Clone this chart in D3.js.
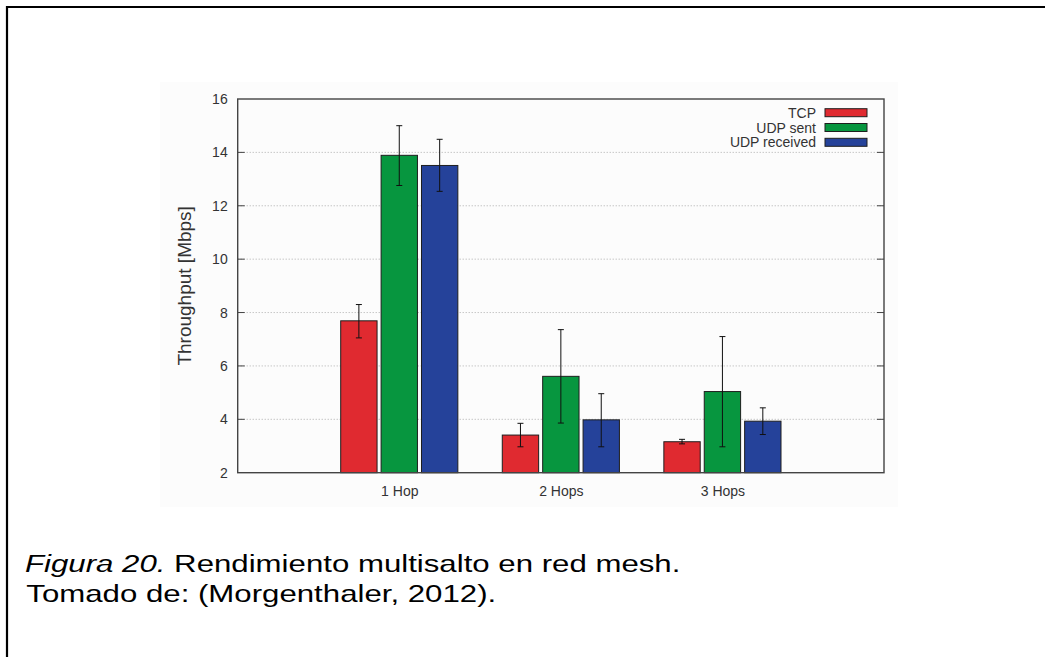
<!DOCTYPE html>
<html>
<head>
<meta charset="utf-8">
<script src="https://cdn.jsdelivr.net/npm/d3@7"></script>
<style>
  html, body { margin: 0; padding: 0; background: #fff; }
  svg { display: block; }
  text { font-family: "Liberation Sans", Arial, Helvetica, sans-serif; }
</style>
</head>
<body>
<svg id="chart" width="1045" height="657"></svg>
<script>
// Hop counts along the x axis
const categories = ["1 Hop", "2 Hops", "3 Hops"];
// Series shown in the legend
const seriesNames = ["TCP", "UDP sent", "UDP received"];
const seriesColors = ["#e02a30", "#07963f", "#25429a"];
// Mean throughput per hop count [Mbps]
const tcpValues = [7.69, 3.41, 3.16];
const udpSentValues = [13.89, 5.61, 5.04];
const udpReceivedValues = [13.51, 3.98, 3.93];
// Error bar bounds (low, high) [Mbps]
const tcpErrLow = [7.05, 2.97, 3.08];
const tcpErrHigh = [8.30, 3.85, 3.25];
const udpSentErrLow = [12.76, 3.86, 2.97];
const udpSentErrHigh = [15.00, 7.36, 7.10];
const udpReceivedErrLow = [12.54, 2.97, 3.43];
const udpReceivedErrHigh = [14.49, 4.96, 4.43];
// Y axis ticks
const yTicks = [2, 4, 6, 8, 10, 12, 14, 16];

const series = [
  { name: seriesNames[0], color: seriesColors[0], values: tcpValues, lo: tcpErrLow, hi: tcpErrHigh },
  { name: seriesNames[1], color: seriesColors[1], values: udpSentValues, lo: udpSentErrLow, hi: udpSentErrHigh },
  { name: seriesNames[2], color: seriesColors[2], values: udpReceivedValues, lo: udpReceivedErrLow, hi: udpReceivedErrHigh }
];

const svg = d3.select("#chart");

// Page frame
svg.append("path")
  .attr("d", "M7,700 L7,7 L1100,7")
  .attr("fill", "none")
  .attr("stroke", "#000")
  .attr("stroke-width", 2.2);

// Light backdrop of the plot figure
svg.append("rect")
  .attr("x", 160).attr("y", 82)
  .attr("width", 738).attr("height", 425)
  .attr("fill", "#fcfcfc");

const plot = { left: 237.7, right: 884, top: 99, bottom: 472.7 };

// x: group slots at 1, 2, 3 within [0, 4]
const x = d3.scaleLinear().domain([0, 4]).range([plot.left, plot.right]);
const y = d3.scaleLinear().domain([2, 16]).range([plot.bottom, plot.top]);

// Each group holds 3 bars plus a one-bar gap; boxes fill 90% of a slot
const slot = 1 / 4;
const boxFrac = 0.9;
const slotPx = x(slot) - x(0);
const barW = slotPx * boxFrac;

// Grid lines (dotted)
svg.append("g")
  .selectAll("line")
  .data(yTicks.filter(t => t > 2 && t < 16))
  .join("line")
  .attr("x1", plot.left).attr("x2", plot.right)
  .attr("y1", d => y(d)).attr("y2", d => y(d))
  .attr("stroke", "#9a9a9a")
  .attr("stroke-width", 0.8)
  .attr("stroke-dasharray", "1,2");

// Y axis with inward ticks on both sides
const yAxis = d3.axisLeft(y).tickValues(yTicks).tickSize(0).tickPadding(10);
const gy = svg.append("g").attr("transform", `translate(${plot.left},0)`).call(yAxis);
gy.select(".domain").remove();
gy.selectAll("text").attr("font-size", 14).attr("fill", "#333")
  .attr("font-family", "'Liberation Sans', Arial, sans-serif");

svg.append("g").selectAll("line")
  .data(yTicks.filter(t => t > 2 && t < 16))
  .join("line")
  .attr("x1", plot.left).attr("x2", plot.left + 7)
  .attr("y1", d => y(d)).attr("y2", d => y(d))
  .attr("stroke", "#444").attr("stroke-width", 1);
svg.append("g").selectAll("line")
  .data(yTicks.filter(t => t > 2 && t < 16))
  .join("line")
  .attr("x1", plot.right - 7).attr("x2", plot.right)
  .attr("y1", d => y(d)).attr("y2", d => y(d))
  .attr("stroke", "#444").attr("stroke-width", 1);

// X axis labels
const xAxis = d3.axisBottom(x).tickValues([1, 2, 3])
  .tickFormat((d, i) => categories[i]).tickSize(0).tickPadding(13);
const gx = svg.append("g").attr("transform", `translate(0,${plot.bottom})`).call(xAxis);
gx.select(".domain").remove();
gx.selectAll("text").attr("font-size", 14).attr("fill", "#333")
  .attr("font-family", "'Liberation Sans', Arial, sans-serif");

// Bars
series.forEach((s, j) => {
  const g = svg.append("g");
  const cx = i => x(i + 1) + (j - 1) * slotPx;
  g.selectAll("rect")
    .data(s.values)
    .join("rect")
    .attr("x", (d, i) => cx(i) - barW / 2)
    .attr("y", d => y(d))
    .attr("width", barW)
    .attr("height", d => y(2) - y(d))
    .attr("fill", s.color)
    .attr("stroke", "#1e1e1e")
    .attr("stroke-width", 1);

  // Error bars
  const eb = g.selectAll("g.err")
    .data(s.values.map((v, i) => ({ i, lo: s.lo[i], hi: s.hi[i] })))
    .join("g").attr("class", "err");
  eb.append("line")
    .attr("x1", d => cx(d.i)).attr("x2", d => cx(d.i))
    .attr("y1", d => y(d.lo)).attr("y2", d => y(d.hi))
    .attr("stroke", "#111").attr("stroke-width", 1);
  eb.append("line")
    .attr("x1", d => cx(d.i) - 3).attr("x2", d => cx(d.i) + 3)
    .attr("y1", d => y(d.lo)).attr("y2", d => y(d.lo))
    .attr("stroke", "#111").attr("stroke-width", 1);
  eb.append("line")
    .attr("x1", d => cx(d.i) - 3).attr("x2", d => cx(d.i) + 3)
    .attr("y1", d => y(d.hi)).attr("y2", d => y(d.hi))
    .attr("stroke", "#111").attr("stroke-width", 1);
});

// Plot border
svg.append("rect")
  .attr("x", plot.left).attr("y", plot.top)
  .attr("width", plot.right - plot.left).attr("height", plot.bottom - plot.top)
  .attr("fill", "none").attr("stroke", "#444").attr("stroke-width", 1.4);

// Y axis title
svg.append("text")
  .attr("transform", `translate(191,${(plot.top + plot.bottom) / 2}) rotate(-90)`)
  .attr("text-anchor", "middle")
  .attr("font-size", 19)
  .attr("fill", "#333")
  .text("Throughput [Mbps]");

// Legend (top right, text right-aligned before the swatch)
const legend = svg.append("g");
const legendRow = d3.scaleLinear().domain([0, 1]).range([112.7, 127.5]);
series.forEach((s, j) => {
  legend.append("text")
    .attr("x", 816).attr("y", legendRow(j))
    .attr("dy", "0.36em")
    .attr("text-anchor", "end")
    .attr("font-size", 14)
    .attr("fill", "#333")
    .text(s.name);
  legend.append("rect")
    .attr("x", 825).attr("y", legendRow(j) - 4)
    .attr("width", 42).attr("height", 8)
    .attr("fill", s.color)
    .attr("stroke", "#1e1e1e").attr("stroke-width", 1);
});

// Caption
const cap = svg.append("g").attr("transform", "translate(25,0) scale(1.30,1)");
const line1 = cap.append("text").attr("x", 0).attr("y", 572.5)
  .attr("font-size", 24).attr("fill", "#000");
line1.append("tspan").attr("font-style", "italic").text("Figura 20.");
line1.append("tspan").text(" Rendimiento multisalto en red mesh.");
cap.append("text").attr("x", 1).attr("y", 602)
  .attr("font-size", 24).attr("fill", "#000")
  .text("Tomado de: (Morgenthaler, 2012).");
</script>
</body>
</html>
